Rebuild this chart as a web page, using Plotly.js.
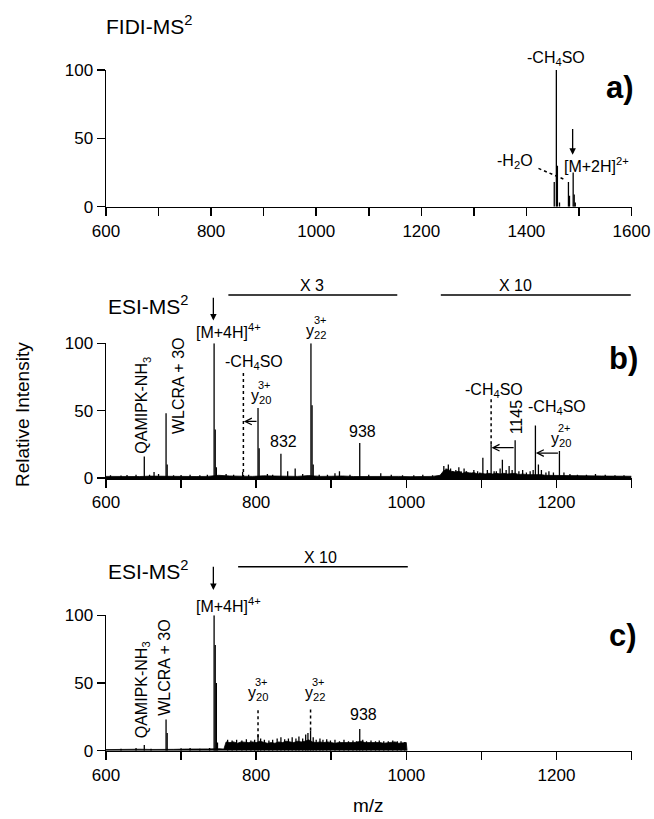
<!DOCTYPE html>
<html><head><meta charset="utf-8">
<script src="https://cdn.plot.ly/plotly-3.0.1.min.js"></script>
<style>html,body{margin:0;padding:0;background:#fff}#chart{width:654px;height:819px}</style>
</head><body><div id="chart"></div>
<script>
// ---------------- DATA ----------------
// Panel a) FIDI-MS2 peaks (m/z, relative intensity)
const a_mz  = [1453, 1457, 1459, 1463, 1480, 1482, 1489, 1491, 1493];
const a_int = [18,   100,  30,   3,    18,   8,    25,   9,    3];

// Panel b) ESI-MS2 peaks
const b_mz  = [606, 620, 628, 640, 651, 658, 664, 670, 680, 681.5, 690, 700, 712, 725, 735,
               744, 745.5, 747, 760, 770, 782, 790, 802.5, 804, 815, 822, 833, 842, 852, 862,
               873, 874.5, 876, 884, 895, 905, 911, 925, 938, 950, 966, 980, 995, 1010, 1022, 1035,
               1050, 1053, 1056, 1059, 1062, 1066, 1070, 1073, 1077, 1080, 1085, 1090, 1095, 1098,
               1102, 1108, 1113, 1117, 1120, 1125, 1128, 1133, 1137, 1141, 1145, 1150, 1155, 1160,
               1165, 1169, 1172, 1176, 1180, 1186, 1190, 1196, 1204, 1210, 1218, 1228, 1240, 1252,
               1265, 1278, 1290];
const b_int = [2, 1.8, 2.2, 2.5, 16, 2.5, 4.5, 3, 48, 10, 2, 2.2, 2.5, 2, 2.5,
               100, 36, 8, 3, 2.5, 4.5, 2.5, 52, 22, 3, 2.5, 18, 5, 7, 3,
               100, 54, 10, 2.5, 2.5, 3.5, 5, 2.5, 26, 2.5, 3.5, 2.5, 2, 2, 2.5, 2,
               9, 7, 10, 7, 5, 6, 8, 5, 7, 5, 4, 6, 5, 4,
               15, 6, 25, 5, 5, 7, 13.5, 6, 9, 6, 28, 5, 6, 4,
               5, 6, 39, 10, 6, 4, 5, 4, 20, 4, 3, 2.5, 2.5, 3,
               2.5, 2, 2];
// Panel b) baseline / grass envelope
const b_env_mz  = [600, 615, 630, 645, 660, 675, 690, 705, 720, 735, 750, 765, 780, 795, 810,
                   825, 840, 855, 870, 885, 900, 915, 930, 945, 960, 975, 990, 1005, 1020, 1035,
                   1045, 1050, 1055, 1060, 1065, 1070, 1075, 1080, 1085, 1090, 1095, 1100, 1105, 1110,
                   1115, 1120, 1125, 1130, 1135, 1140, 1145, 1150, 1155, 1160, 1165, 1170, 1175, 1180,
                   1185, 1190, 1195, 1200, 1210, 1220, 1230, 1240, 1250, 1260, 1270, 1280, 1290, 1300];
const b_env_int = [1.2, 1.0, 1.3, 1.1, 1.4, 1.2, 1.0, 1.3, 1.1, 1.2, 2.0, 1.5, 1.3, 1.2, 1.6,
                   1.3, 1.4, 1.2, 1.8, 1.2, 1.3, 1.5, 1.1, 1.2, 1.3, 1.1, 1.2, 1.0, 1.1, 1.2,
                   2, 5.5, 6.5, 5, 4.5, 5, 3.5, 4.5, 3.5, 4, 3, 3.5, 3, 3.5,
                   3, 3.5, 3, 3.5, 3, 3, 3.5, 2.5, 3, 2.5, 2.5, 3, 2.5, 2.5,
                   2, 2, 2, 2, 1.8, 1.6, 1.8, 1.5, 1.6, 1.5, 1.4, 1.5, 1.4, 1.3];

// Panel c) ESI-MS2 peaks
const c_mz  = [620, 640, 651, 660, 680, 681.5, 700, 712, 725, 738, 744, 745.5, 747, 748.5,
               762, 768, 774, 781, 787, 793, 798, 802.5, 806, 811, 817, 822, 828, 833, 838, 843,
               848, 853, 857, 862, 866, 869, 872.5, 876, 880, 885, 889, 894, 899, 905, 911, 917,
               923, 929, 934, 938, 942, 947, 953, 959, 964, 970, 976, 982, 988, 993, 998];
const c_int = [1.5, 2, 4.3, 1.5, 23, 13, 1.8, 2, 1.5, 2, 100, 78, 50, 6,
               8, 7.5, 8, 7.5, 8.5, 7.5, 8, 12, 9, 8, 7.5, 8, 9, 10, 8.5, 9,
               10, 9, 10.5, 9, 12, 13, 15, 10, 8, 9, 8, 8.5, 7.5, 8, 7, 8,
               7, 7.5, 7, 16, 8, 7, 7.5, 7, 7.5, 7, 7, 7.5, 7, 7, 6.5];
const c_env_mz  = [600, 615, 630, 645, 660, 675, 690, 705, 720, 735, 750, 757,
                   760, 765, 770, 775, 780, 785, 790, 795, 800, 805, 810, 815, 820, 825, 830, 835,
                   840, 845, 850, 855, 860, 865, 870, 875, 880, 885, 890, 895, 900, 905, 910, 915,
                   920, 925, 930, 935, 940, 945, 950, 955, 960, 965, 970, 975, 980, 985, 990, 995,
                   1000, 1001];
const c_env_int = [0.8, 1.0, 0.9, 1.1, 0.9, 1.2, 1.0, 1.2, 1.1, 1.3, 1.5, 1.2,
                   6.5, 6, 6.5, 5.5, 6.5, 6, 6, 6.5, 6, 7, 6, 5.5, 6, 5.5, 6.5, 6,
                   7, 6.5, 6, 7, 6.5, 7, 8, 6.5, 6, 6.5, 6, 6.5, 6, 5.5, 6, 6,
                   5.5, 6, 6, 6.5, 7, 6, 6, 6.5, 6, 6, 5.5, 6, 6, 6.5, 5.5, 6,
                   6, 0];

// Tick positions and labels
const xMajorA = [600, 800, 1000, 1200, 1400, 1600];
const xMinorA = [700, 900, 1100, 1300, 1500];
const xMajorBC = [600, 800, 1000, 1200];
const xMinorBC = [700, 900, 1100, 1300];
const yTicks = [0, 50, 100];

// ---------------- DRAWING ----------------
const FONT = '"Liberation Sans", Arial, sans-serif';
function sticks(mz, inten) {
  const x = [], y = [];
  for (let i = 0; i < mz.length; i++) { x.push(mz[i], mz[i], null); y.push(0, inten[i], null); }
  return {x, y};
}
function stickTrace(mz, inten, xa, ya) {
  const s = sticks(mz, inten);
  return {type: 'scatter', mode: 'lines', x: s.x, y: s.y, xaxis: xa, yaxis: ya,
          line: {color: '#000', width: 1.3}, hoverinfo: 'skip', showlegend: false, connectgaps: false};
}
function envTrace(mz, inten, xa, ya) {
  return {type: 'scatter', mode: 'lines', x: mz, y: inten, xaxis: xa, yaxis: ya, fill: 'tozeroy',
          fillcolor: '#000', line: {color: '#000', width: 0.8}, hoverinfo: 'skip', showlegend: false};
}

const traces = [
  stickTrace(a_mz, a_int, 'x', 'y'),
  envTrace(b_env_mz, b_env_int, 'x2', 'y2'),
  stickTrace(b_mz, b_int, 'x2', 'y2'),
  envTrace(c_env_mz, c_env_int, 'x3', 'y3'),
  stickTrace(c_mz, c_int, 'x3', 'y3')
];

const XD = [106 / 654, 631.5 / 654];
const H = 819;
const domA = [1 - 206.7 / H, 1 - 70 / H];
const domB = [1 - 478 / H, 1 - 343.3 / H];
const domC = [1 - 750.7 / H, 1 - 615.3 / H];

function xAxis(range, major, minor, anchor) {
  return {domain: XD, range: range, anchor: anchor, showgrid: false, zeroline: false, showline: true,
          linecolor: '#000', linewidth: 1.5, ticks: 'outside', ticklen: 8, tickwidth: 1.5, tickcolor: '#000',
          tickmode: 'array', tickvals: major, ticktext: major.map(String),
          minor: {tickmode: 'array', tickvals: minor, ticks: 'outside', ticklen: 8, tickwidth: 1.5,
                  tickcolor: '#000', showgrid: false},
          tickfont: {family: FONT, size: 17, color: '#000'}, fixedrange: true};
}
function yAxis(dom, anchor) {
  return {domain: dom, range: [0, 100], anchor: anchor, showgrid: false, zeroline: false, showline: true,
          linecolor: '#000', linewidth: 1.5, ticks: 'outside', ticklen: 8, tickwidth: 1.5, tickcolor: '#000',
          tickmode: 'array', tickvals: yTicks, ticktext: yTicks.map(String),
          tickfont: {family: FONT, size: 17, color: '#000'}, fixedrange: true};
}

// y values above the axis range (100) are placed through the axis' own domain reference
function yPos(yr, y) {
  if (yr !== 'paper' && y > 100) return {yref: yr + ' domain', y: y / 100};
  return {yref: yr, y: y};
}
function txt(xr, yr, x, y, text, opts) {
  const p = yPos(yr, y);
  return Object.assign({xref: xr, yref: p.yref, x: x, y: p.y, text: text, showarrow: false,
    font: {family: FONT, size: 16, color: '#000'}}, opts || {});
}
function ion(xr, yr, x, y, sub, sup) {
  return [
    txt(xr, yr, x, y, 'y<sub>' + sub + '</sub>', {xanchor: 'center', yanchor: 'bottom'}),
    txt(xr, yr, x, y, sup, {xanchor: 'center', yanchor: 'bottom', xshift: 4, yshift: 15,
      font: {family: FONT, size: 11, color: '#000'}})
  ];
}
function arrow(xr, yr, x, y, ax, ay, head) {
  const p = yPos(yr, Math.max(y, ay));
  const dom = p.yref !== yr;
  return {xref: xr, yref: p.yref, axref: xr, ayref: p.yref, x: x, y: dom ? y / 100 : y,
          ax: ax, ay: dom ? ay / 100 : ay, text: '',
          showarrow: true, arrowhead: head, arrowsize: 1, arrowwidth: 1.3, arrowcolor: '#000', standoff: 0, startstandoff: 0};
}
const big = {family: FONT, size: 21, color: '#000'};
const bold = {family: FONT, size: 31, color: '#000'};

const annotations = [
  // panel a
  txt('paper', 'paper', 104 / 654, 1 - 25 / H, 'FIDI-MS<sup>2</sup>', {xanchor: 'left', yanchor: 'middle', font: big}),
  txt('x', 'y', 1457, 100, '-CH<sub>4</sub>SO', {xanchor: 'center', yanchor: 'bottom'}),
  txt('x', 'y', 1378, 33, '-H<sub>2</sub>O', {xanchor: 'center', yanchor: 'middle'}),
  txt('x', 'y', 1468, 30.5, '[M+2H]<sup>2+</sup>', {xanchor: 'left', yanchor: 'middle'}),
  arrow('x', 'y', 1488, 38, 1488, 58, 2),
  txt('x', 'y', 1578, 87, '<b>a)</b>', {xanchor: 'center', yanchor: 'middle', font: bold}),
  // panel b
  txt('paper', 'paper', 106 / 654, 1 - 305 / H, 'ESI-MS<sup>2</sup>', {xanchor: 'left', yanchor: 'middle', font: big}),
  arrow('x2', 'y2', 743, 117, 743, 135, 2),
  txt('x2', 'y2', 717, 109, '[M+4H]<sup>4+</sup>', {xanchor: 'left', yanchor: 'middle'}),
  txt('x2', 'y2', 875, 143, 'X 3', {xanchor: 'center', yanchor: 'middle'}),
  txt('x2', 'y2', 1146, 143, 'X 10', {xanchor: 'center', yanchor: 'middle'}),
  txt('x2', 'y2', 648.6, 54, 'QAMIPK-NH<sub>3</sub>', {xanchor: 'center', yanchor: 'middle', textangle: -90}),
  txt('x2', 'y2', 696.7, 68, 'WLCRA + 3O', {xanchor: 'center', yanchor: 'middle', textangle: -90}),
  txt('x2', 'y2', 797, 86, '-CH<sub>4</sub>SO', {xanchor: 'center', yanchor: 'middle'}),
  ...ion('x2', 'y2', 806, 52, '20', '3+'),
  arrow('x2', 'y2', 783.5, 42, 802.5, 42, 5),
  txt('x2', 'y2', 837, 19, '832', {xanchor: 'center', yanchor: 'bottom'}),
  ...ion('x2', 'y2', 880, 100, '22', '3+'),
  txt('x2', 'y2', 942, 27, '938', {xanchor: 'center', yanchor: 'bottom'}),
  txt('x2', 'y2', 1117, 65, '-CH<sub>4</sub>SO', {xanchor: 'center', yanchor: 'middle'}),
  txt('x2', 'y2', 1147, 45.5, '1145', {xanchor: 'center', yanchor: 'middle', textangle: -90}),
  arrow('x2', 'y2', 1113.5, 22.5, 1145, 22.5, 5),
  txt('x2', 'y2', 1201, 52, '-CH<sub>4</sub>SO', {xanchor: 'center', yanchor: 'middle'}),
  ...ion('x2', 'y2', 1206, 20, '20', '2+'),
  arrow('x2', 'y2', 1172.5, 18.5, 1204, 18.5, 5),
  txt('x2', 'y2', 1289, 89, '<b>b)</b>', {xanchor: 'center', yanchor: 'middle', font: bold}),
  // panel c
  txt('paper', 'paper', 106 / 654, 1 - 570 / H, 'ESI-MS<sup>2</sup>', {xanchor: 'left', yanchor: 'middle', font: big}),
  arrow('x3', 'y3', 743, 118.7, 743, 137, 2),
  txt('x3', 'y3', 717, 107.6, '[M+4H]<sup>4+</sup>', {xanchor: 'left', yanchor: 'middle'}),
  txt('x3', 'y3', 886, 143, 'X 10', {xanchor: 'center', yanchor: 'middle'}),
  txt('x3', 'y3', 648.6, 45, 'QAMIPK-NH<sub>3</sub>', {xanchor: 'center', yanchor: 'middle', textangle: -90}),
  txt('x3', 'y3', 677.6, 61.4, 'WLCRA + 3O', {xanchor: 'center', yanchor: 'middle', textangle: -90}),
  ...ion('x3', 'y3', 802, 33.7, '20', '3+'),
  ...ion('x3', 'y3', 878, 33.7, '22', '3+'),
  txt('x3', 'y3', 943, 19, '938', {xanchor: 'center', yanchor: 'bottom'}),
  txt('x3', 'y3', 1288.7, 85.4, '<b>c)</b>', {xanchor: 'center', yanchor: 'middle', font: bold}),
  // axis titles
  txt('paper', 'paper', 22 / 654, 1 - 415 / H, 'Relative Intensity', {xanchor: 'center', yanchor: 'middle', textangle: -90, font: {family: FONT, size: 19, color: '#000'}}),
  txt('paper', 'paper', 368 / 654, 1 - 805 / H, 'm/z', {xanchor: 'center', yanchor: 'middle', font: {family: FONT, size: 19, color: '#000'}})
];

function hline(xr, yr, x0, x1, y) {
  return {type: 'line', xref: xr, yref: yr, x0: x0, x1: x1, y0: y, y1: y, line: {color: '#000', width: 1.4}};
}
function dotted(xr, yr, x0, y0, x1, y1) {
  return {type: 'line', xref: xr, yref: yr, x0: x0, x1: x1, y0: y0, y1: y1, line: {color: '#000', width: 1.5, dash: 'dot'}};
}
const shapes = [
  dotted('x', 'y', 1423, 28, 1475, 19.5),
  hline('x2', 'y2 domain', 763, 988, 1.359),
  hline('x2', 'y2 domain', 1046, 1299, 1.359),
  dotted('x2', 'y2', 783, 0, 783, 79),
  dotted('x2', 'y2', 1113, 25, 1113, 59),
  hline('x3', 'y3 domain', 776, 1002, 1.359),
  dotted('x3', 'y3', 802.5, 10, 802.5, 31),
  dotted('x3', 'y3', 872.5, 15, 872.5, 31)
];

const layout = {
  width: 654, height: 819, paper_bgcolor: '#fff', plot_bgcolor: 'rgba(0,0,0,0)',
  margin: {l: 0, r: 0, t: 0, b: 0, autoexpand: false},
  showlegend: false,
  font: {family: FONT, color: '#000'},
  xaxis: xAxis([600, 1600], xMajorA, xMinorA, 'y'),
  yaxis: yAxis(domA, 'x'),
  xaxis2: xAxis([600, 1300], xMajorBC, xMinorBC, 'y2'),
  yaxis2: yAxis(domB, 'x2'),
  xaxis3: xAxis([600, 1300], xMajorBC, xMinorBC, 'y3'),
  yaxis3: yAxis(domC, 'x3'),
  annotations: annotations,
  shapes: shapes
};
Plotly.newPlot('chart', traces, layout, {staticPlot: true, displayModeBar: false});
</script>
</body></html>
